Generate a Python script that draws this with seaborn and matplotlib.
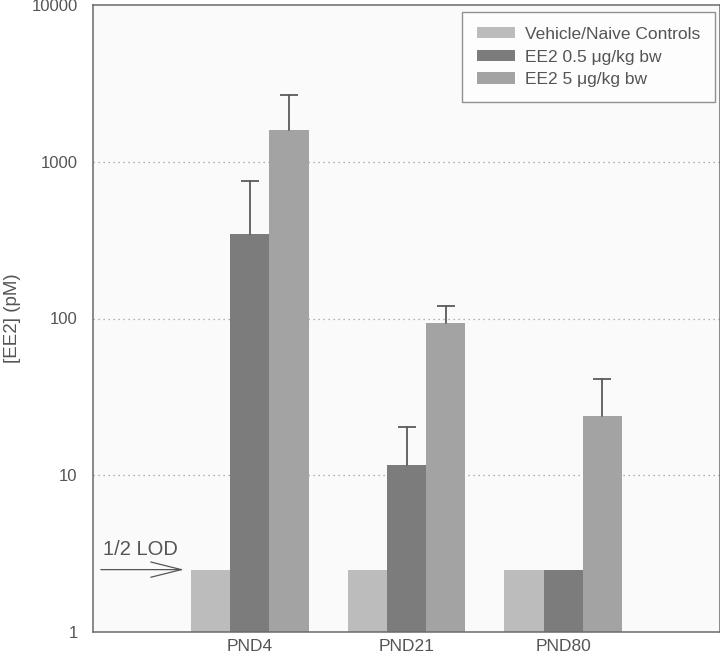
import matplotlib
matplotlib.use("Agg")
import matplotlib.pyplot as plt
import seaborn as sns
import pandas as pd
import numpy as np

# values (log axis, pM)
days = ["PND4", "PND21", "PND80"]
groups = ["Vehicle/Naive Controls", "EE2 0.5 \u03bcg/kg bw", "EE2 5 \u03bcg/kg bw"]
vehicle = [2.5, 2.5, 2.5]
ee2_low = [346, 11.6, 2.5]
ee2_high = [1600, 93, 24]
# upper end of the error bars (None = no bar drawn)
vehicle_top = [None, None, None]
ee2_low_top = [750, 20.3, None]
ee2_high_top = [2650, 120, 41]

colors = ["#bcbcbc", "#7c7c7c", "#a3a3a3"]
text_col = "#555555"

sns.set_style("white")
plt.rcParams["font.family"] = ["Liberation Sans", "DejaVu Sans"]

df = pd.DataFrame({
    "day": days * 3,
    "group": np.repeat(groups, 3),
    "conc": vehicle + ee2_low + ee2_high,
})
tops = vehicle_top + ee2_low_top + ee2_high_top

fig = plt.figure(figsize=(7.2, 6.56), dpi=100)
ax = fig.add_axes([93 / 720, 1 - 632 / 656, 627 / 720, 627 / 656])
ax.set_facecolor("#fafafa")

sns.barplot(data=df, x="day", y="conc", hue="group", order=days, hue_order=groups,
            palette=colors, width=0.75, errorbar=None, saturation=1,
            linewidth=0, ax=ax, zorder=2)
ax.set_yscale("log")
ax.set_ylim(1, 10000)
ax.set_xlim(-1, 3)

# error bars, upper side only, placed at the seaborn bar centres
bars = ax.patches[:9]
for bar, val, top in zip(bars, df["conc"], tops):
    if top is None:
        continue
    xc = bar.get_x() + bar.get_width() / 2
    ax.plot([xc, xc], [val, top], color="#5a5a5a", lw=1.3, zorder=3)
    ax.plot([xc], [top], marker="_", markersize=13, markeredgewidth=1.3,
            color="#5a5a5a", zorder=3)

ax.set_yticks([1, 10, 100, 1000, 10000])
ax.set_yticklabels(["1", "10", "100", "1000", "10000"])
ax.yaxis.set_minor_locator(matplotlib.ticker.NullLocator())
ax.tick_params(axis="both", length=0, colors=text_col)
ax.tick_params(axis="y", pad=11, labelsize=12)
ax.tick_params(axis="x", pad=5, labelsize=12.5)
for y in [10, 100, 1000]:
    ax.axhline(y, color="#9a9a9a", linestyle=(0, (1, 3)), linewidth=0.9, zorder=1)

ax.set_xlabel("")
ax.set_ylabel("[EE2] (pM)", fontsize=13.5, color=text_col)
ax.yaxis.set_label_coords(-0.115, 0.5)

for s in ax.spines.values():
    s.set_color("#6a6a6a")
    s.set_linewidth(1.1)

# 1/2 LOD marker
ax.annotate("", xy=(-0.42, 2.5), xytext=(-0.95, 2.5),
            arrowprops=dict(arrowstyle="->,head_length=2.2,head_width=0.55",
                            color="#555555", lw=0.9, mutation_scale=10,
                            shrinkA=0, shrinkB=0))
ax.text(-0.935, 3.36, "1/2 LOD", ha="left", va="center", fontsize=14.5, color=text_col)

leg = ax.legend(loc="upper right", bbox_to_anchor=(715 / 720, 1 - 12 / 656),
                bbox_transform=fig.transFigure, borderaxespad=0, fontsize=12.5,
                frameon=True, fancybox=False, handlelength=2.2, handleheight=0.65,
                handletextpad=0.57, labelspacing=0.45, borderpad=0.85)
leg.get_frame().set_edgecolor("#777777")
leg.get_frame().set_linewidth(1.0)
leg.get_frame().set_facecolor("white")
for t in leg.get_texts():
    t.set_color(text_col)

fig.savefig("out.png", dpi=100)
